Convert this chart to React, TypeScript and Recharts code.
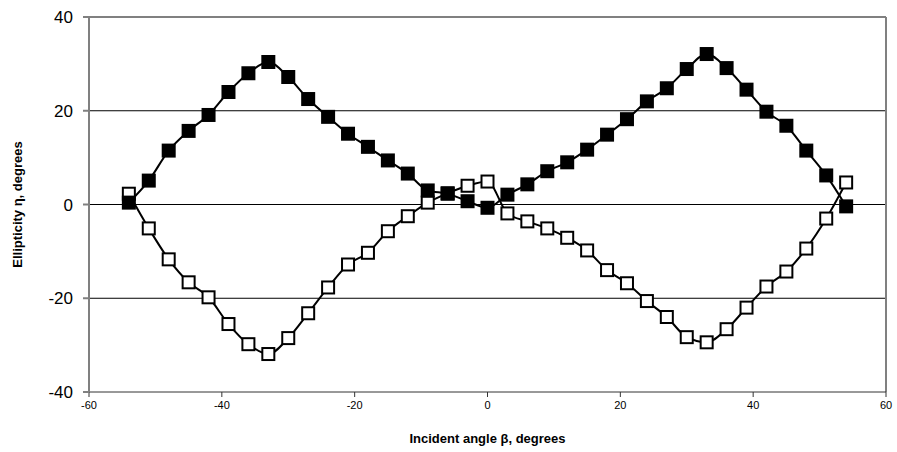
import React from 'react';
import { LineChart, Line, XAxis, YAxis, ReferenceLine, Label } from 'recharts';

const angles = [-54, -51, -48, -45, -42, -39, -36, -33, -30, -27, -24, -21, -18, -15, -12, -9, -6, -3, 0, 3, 6, 9, 12, 15, 18, 21, 24, 27, 30, 33, 36, 39, 42, 45, 48, 51, 54];
const filledSeries = [0.4, 5.1, 11.5, 15.7, 19.1, 24, 28, 30.4, 27.2, 22.5, 18.7, 15.1, 12.3, 9.4, 6.6, 3, 2.3, 0.7, -0.7, 2.1, 4.3, 7.1, 9, 11.7, 14.9, 18.2, 22, 24.8, 28.9, 32.1, 29.1, 24.5, 19.8, 16.8, 11.5, 6.2, -0.4];
const openSeries = [2.3, -5.1, -11.7, -16.6, -19.8, -25.5, -29.8, -31.9, -28.5, -23.2, -17.7, -12.8, -10.3, -5.7, -2.5, 0.4, 2.4, 4, 4.9, -1.9, -3.6, -5.1, -7.1, -9.8, -14, -16.8, -20.6, -24, -28.3, -29.4, -26.6, -22, -17.5, -14.3, -9.4, -3, 4.7];
const xTicks = [-60, -40, -20, 0, 20, 40, 60];
const yTicks = [-40, -20, 0, 20, 40];
const gridValues = [-20, 0, 20];

const data = angles.map((a, i) => ({ x: a, filled: filledSeries[i], open: openSeries[i] }));

const FilledDot = (props: any) => {
  const { cx, cy, index } = props;
  if (cx == null || cy == null) return <g key={`f${index}`} />;
  return <rect key={`f${index}`} x={cx - 7} y={cy - 7} width={14} height={14} fill="#000" />;
};

const OpenDot = (props: any) => {
  const { cx, cy, index } = props;
  if (cx == null || cy == null) return <g key={`o${index}`} />;
  return <rect key={`o${index}`} x={cx - 6} y={cy - 6} width={12} height={12} fill="#fff" stroke="#000" strokeWidth={2} />;
};

export default function App() {
  return (
    <div style={{ position: 'absolute', left: 0, top: 0, fontFamily: 'Liberation Sans, Arial, sans-serif' }}>
      <LineChart width={897} height={452} data={data} margin={{ top: 17, right: 11, bottom: 0, left: 0 }}>
        <XAxis
          dataKey="x"
          type="number"
          domain={[-60, 60]}
          ticks={xTicks}
          tickSize={5}
          tickMargin={4}
          height={60}
          stroke="#333"
          tick={{ fill: '#000', fontSize: 11, fontFamily: 'Liberation Sans, Arial, sans-serif' }}
        >
          <Label
            value="Incident angle β, degrees"
            position="insideBottom"
            offset={9}
            style={{ fill: '#000', fontSize: 13, fontWeight: 'bold', fontFamily: 'Liberation Sans, Arial, sans-serif' }}
          />
        </XAxis>
        <YAxis
          type="number"
          domain={[-40, 40]}
          ticks={yTicks}
          tickSize={6}
          tickMargin={10}
          width={89}
          stroke="#808080"
          strokeWidth={2}
          tick={{ fill: '#000', fontSize: 17, fontFamily: 'Liberation Sans, Arial, sans-serif' }}
        >
          <Label
            value="Ellipticity η, degrees"
            angle={-90}
            position="insideLeft"
            offset={17}
            style={{ fill: '#000', fontSize: 13, fontWeight: 'bold', textAnchor: 'middle', fontFamily: 'Liberation Sans, Arial, sans-serif' }}
          />
        </YAxis>
        {gridValues.map((v) => (
          <ReferenceLine key={v} y={v} stroke="#000" strokeWidth={1} />
        ))}
        <ReferenceLine y={40} stroke="#808080" strokeWidth={2} />
        <ReferenceLine x={60} stroke="#808080" strokeWidth={2} />
        <Line
          dataKey="open"
          type="monotone"
          stroke="#000"
          strokeWidth={2}
          dot={OpenDot}
          activeDot={false}
          isAnimationActive={false}
        />
        <Line
          dataKey="filled"
          type="monotone"
          stroke="#000"
          strokeWidth={2}
          dot={FilledDot}
          activeDot={false}
          isAnimationActive={false}
        />
      </LineChart>
    </div>
  );
}
